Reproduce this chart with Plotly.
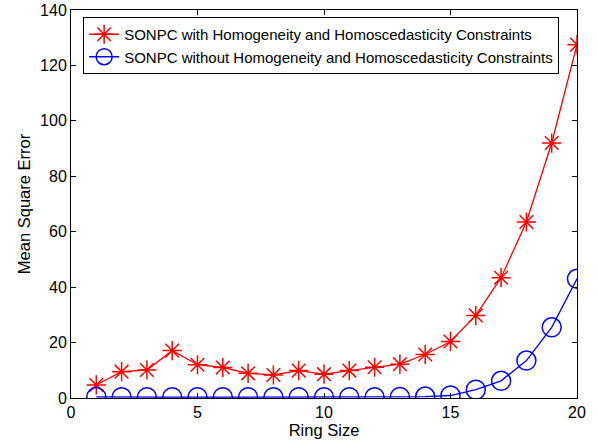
import plotly.graph_objects as go

ring_size = list(range(1, 21))
mse_with = [4.7, 9.5, 10.1, 17.1, 12.0, 11.0, 8.9, 8.3, 9.9, 8.6,
            9.9, 11.1, 12.2, 15.7, 20.4, 29.8, 43.4, 63.5, 92.0, 127.5]
mse_without = [0.4, 0.3, 0.3, 0.3, 0.3, 0.3, 0.3, 0.3, 0.3, 0.3,
               0.3, 0.3, 0.4, 0.5, 0.9, 3.0, 6.2, 13.5, 25.5, 43.0]

name_with = "SONPC with Homogeneity and Homoscedasticity Constraints"
name_without = "SONPC without Homogeneity and Homoscedasticity Constraints"

font_family = "Liberation Sans, Arial, sans-serif"

fig = go.Figure()
fig.add_trace(go.Scatter(
    x=ring_size, y=mse_with, name=name_with, mode="lines+markers",
    line=dict(color="#ff0000", width=1.3),
    marker=dict(symbol="asterisk-open", size=16, color="#ff0000",
                line=dict(color="#ff0000", width=1.5)),
))
fig.add_trace(go.Scatter(
    x=ring_size, y=mse_without, name=name_without, mode="lines+markers",
    line=dict(color="#0000ff", width=1.3),
    marker=dict(symbol="circle-open", size=19, color="#0000ff",
                line=dict(color="#0000ff", width=1.5)),
))

axis_common = dict(
    showline=True, linecolor="black", linewidth=1, mirror="ticks",
    ticks="inside", ticklen=5, tickcolor="black", showgrid=False,
    zeroline=False, automargin=False,
    tickfont=dict(size=16, color="black"),
)

fig.update_layout(
    width=598, height=447,
    margin=dict(l=71, r=21, t=10, b=49),
    paper_bgcolor="white", plot_bgcolor="white",
    font=dict(family=font_family, color="black"),
    xaxis=dict(range=[0, 20], tick0=0, dtick=5,
               title=dict(text="Ring Size", font=dict(size=16.5), standoff=4),
               **axis_common),
    yaxis=dict(range=[0, 140], tick0=0, dtick=20,
               title=dict(text="Mean Square Error", font=dict(size=16.5), standoff=5),
               **axis_common),
    legend=dict(x=0.024, y=0.982, xanchor="left", yanchor="top",
                bgcolor="white", bordercolor="black", borderwidth=1,
                font=dict(size=15, color="black"), tracegroupgap=0,
                itemwidth=30),
    showlegend=True,
)

fig.write_html("out.html")
